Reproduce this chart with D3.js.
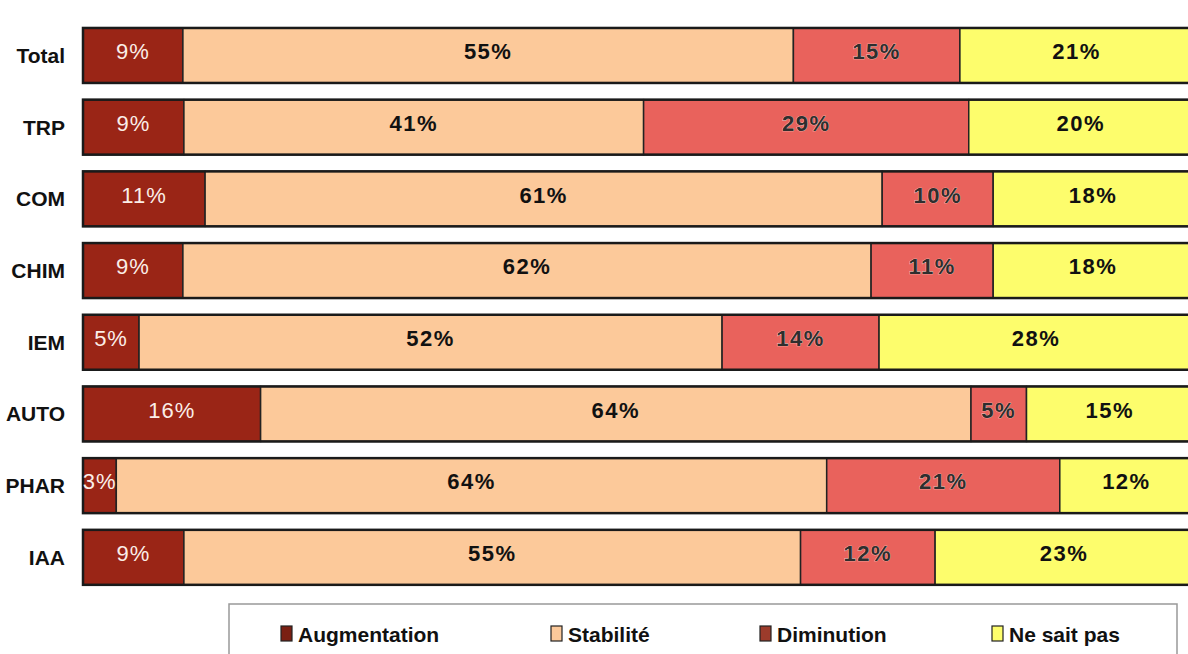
<!DOCTYPE html>
<html>
<head>
<meta charset="utf-8">
<script src="https://cdn.jsdelivr.net/npm/d3@7"></script>
<style>
  body { margin: 0; background: #fff; }
  svg { display: block; font-family: "Liberation Sans", Arial, sans-serif; }
</style>
</head>
<body>
<div id="chart"></div>
<script>
// categories + series values (percent)
const categories = ["Total", "TRP", "COM", "CHIM", "IEM", "AUTO", "PHAR", "IAA"];
const seriesNames = ["Augmentation", "Stabilité", "Diminution", "Ne sait pas"];
const augmentation = [9, 9, 11, 9, 5, 16, 3, 9];
const stabilite = [55, 41, 61, 62, 52, 64, 64, 55];
const diminution = [15, 29, 10, 11, 14, 5, 21, 12];
const neSaitPas = [21, 20, 18, 18, 28, 15, 12, 23];

const colors = ["#9a2516", "#fcc99a", "#e9625c", "#fdfd6c"];
const legendColors = ["#7a1f12", "#fcc99a", "#9c3b2b", "#fdfd6c"];
const labelColors = ["#fbeee8", "#111", "#2e2e2e", "#111"];

const width = 1188, height = 654;

// build rows for the stack
const rows = categories.map((c, i) => ({
    cat: c,
    "Augmentation": augmentation[i],
    "Stabilité": stabilite[i],
    "Diminution": diminution[i],
    "Ne sait pas": neSaitPas[i]
}));

let svg = d3.select("#chart")
    .append("svg")
    .attr("width", width)
    .attr("height", height);

// rounded values don't always add to 100, so each bar is normalised to full width
let x = d3.scaleLinear().domain([0, 1]).range([83, 1193]);
let y = d3.scaleBand().domain(categories).range([20.8, 592])
    .paddingInner(0.233).paddingOuter(0.1);

let stacked = d3.stack().keys(seriesNames).offset(d3.stackOffsetExpand)(rows);

// segments
let layers = svg.append("g").selectAll("g")
    .data(stacked)
    .join("g")
    .attr("fill", (d, i) => colors[i]);

layers.selectAll("rect")
    .data(d => d)
    .join("rect")
    .attr("x", d => x(d[0]))
    .attr("y", d => y(d.data.cat))
    .attr("width", d => x(d[1]) - x(d[0]))
    .attr("height", y.bandwidth())
    .attr("stroke", "#222")
    .attr("stroke-width", 1.5);

// outer frame per bar
svg.append("g").selectAll("rect")
    .data(rows)
    .join("rect")
    .attr("x", x(0))
    .attr("y", d => y(d.cat))
    .attr("width", x(1) - x(0))
    .attr("height", y.bandwidth())
    .attr("fill", "none")
    .attr("stroke", "#1a1a1a")
    .attr("stroke-width", 2.5);

// value labels
stacked.forEach((layer, i) => {
    let g = svg.append("g");
    g.selectAll("text")
        .data(layer)
        .join("text")
        .attr("x", d => (x(d[0]) + x(d[1])) / 2)
        .attr("y", d => y(d.data.cat) + y.bandwidth() / 2 - 4)
        .attr("dy", "0.35em")
        .attr("text-anchor", "middle")
        .attr("font-size", 22)
        .attr("letter-spacing", i === 0 ? 1 : 1.5)
        .attr("font-weight", i === 0 ? "normal" : "bold")
        .attr("fill", labelColors[i])
        .attr("stroke", i === 2 ? "#f6d0c8" : "none")
        .attr("stroke-width", i === 2 ? 0.7 : 0)
        .attr("paint-order", "stroke")
        .text(d => d.data[seriesNames[i]] + "%");
});

// category labels
svg.append("g").selectAll("text")
    .data(categories)
    .join("text")
    .attr("x", 65)
    .attr("y", d => y(d) + y.bandwidth() / 2)
    .attr("dy", "0.35em")
    .attr("text-anchor", "end")
    .attr("font-size", 21)
    .attr("font-weight", "bold")
    .attr("fill", "#111")
    .text(d => d);

// legend
let legend = svg.append("g");
legend.append("rect")
    .attr("x", 229).attr("y", 604)
    .attr("width", 948).attr("height", 60)
    .attr("fill", "#fff")
    .attr("stroke", "#999")
    .attr("stroke-width", 1.5);

const legendX = [281, 551, 760, 992];
seriesNames.forEach((name, i) => {
    legend.append("rect")
        .attr("x", legendX[i]).attr("y", 626)
        .attr("width", 11).attr("height", 15)
        .attr("fill", legendColors[i])
        .attr("stroke", "#222").attr("stroke-width", 1.2);
    legend.append("text")
        .attr("x", legendX[i] + 17).attr("y", 642)
        .attr("font-size", 21)
        .attr("font-weight", "bold")
        .attr("fill", "#111")
        .text(name);
});
</script>
</body>
</html>
